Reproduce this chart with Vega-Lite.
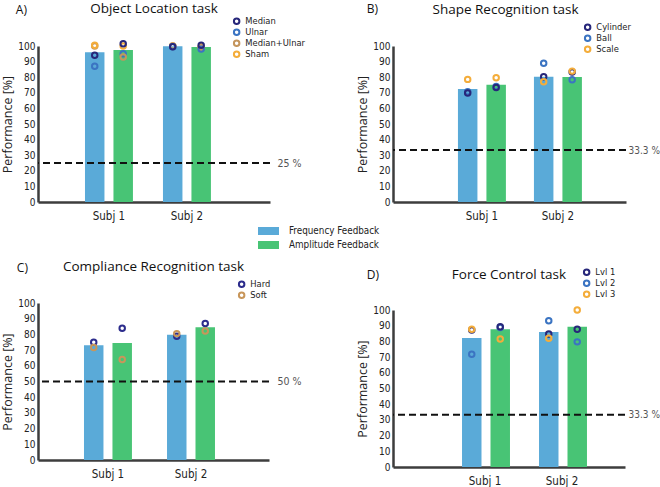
{
  "$schema": "https://vega.github.io/schema/vega-lite/v6.json",
  "padding": {"left": 1, "top": 1, "right": 0, "bottom": 0},
  "datasets": {
    "bars": [
      {"panel": "A", "subj": "Subj 1", "feedback": "Frequency Feedback", "value": 96},
      {"panel": "A", "subj": "Subj 1", "feedback": "Amplitude Feedback", "value": 97.5},
      {"panel": "A", "subj": "Subj 2", "feedback": "Frequency Feedback", "value": 99.8},
      {"panel": "A", "subj": "Subj 2", "feedback": "Amplitude Feedback", "value": 99.3},
      {"panel": "B", "subj": "Subj 1", "feedback": "Frequency Feedback", "value": 72.4},
      {"panel": "B", "subj": "Subj 1", "feedback": "Amplitude Feedback", "value": 75.2},
      {"panel": "B", "subj": "Subj 2", "feedback": "Frequency Feedback", "value": 80.3},
      {"panel": "B", "subj": "Subj 2", "feedback": "Amplitude Feedback", "value": 80.1},
      {"panel": "C", "subj": "Subj 1", "feedback": "Frequency Feedback", "value": 73.1},
      {"panel": "C", "subj": "Subj 1", "feedback": "Amplitude Feedback", "value": 74.6},
      {"panel": "C", "subj": "Subj 2", "feedback": "Frequency Feedback", "value": 79.7},
      {"panel": "C", "subj": "Subj 2", "feedback": "Amplitude Feedback", "value": 84.5},
      {"panel": "D", "subj": "Subj 1", "feedback": "Frequency Feedback", "value": 82.2},
      {"panel": "D", "subj": "Subj 1", "feedback": "Amplitude Feedback", "value": 87.7},
      {"panel": "D", "subj": "Subj 2", "feedback": "Frequency Feedback", "value": 86},
      {"panel": "D", "subj": "Subj 2", "feedback": "Amplitude Feedback", "value": 89.4}
    ],
    "points": [
      {"panel": "A", "subj": "Subj 1", "feedback": "Frequency Feedback", "cond": "Ulnar", "value": 87},
      {"panel": "A", "subj": "Subj 1", "feedback": "Frequency Feedback", "cond": "Median", "value": 94},
      {"panel": "A", "subj": "Subj 1", "feedback": "Frequency Feedback", "cond": "Median+Ulnar", "value": 100},
      {"panel": "A", "subj": "Subj 1", "feedback": "Frequency Feedback", "cond": "Sham", "value": 100.5},
      {"panel": "A", "subj": "Subj 1", "feedback": "Amplitude Feedback", "cond": "Sham", "value": 100},
      {"panel": "A", "subj": "Subj 1", "feedback": "Amplitude Feedback", "cond": "Ulnar", "value": 95},
      {"panel": "A", "subj": "Subj 1", "feedback": "Amplitude Feedback", "cond": "Median+Ulnar", "value": 93},
      {"panel": "A", "subj": "Subj 1", "feedback": "Amplitude Feedback", "cond": "Median", "value": 101.5},
      {"panel": "A", "subj": "Subj 2", "feedback": "Frequency Feedback", "cond": "Sham", "value": 100},
      {"panel": "A", "subj": "Subj 2", "feedback": "Frequency Feedback", "cond": "Median+Ulnar", "value": 100},
      {"panel": "A", "subj": "Subj 2", "feedback": "Frequency Feedback", "cond": "Ulnar", "value": 99.5},
      {"panel": "A", "subj": "Subj 2", "feedback": "Frequency Feedback", "cond": "Median", "value": 99.5},
      {"panel": "A", "subj": "Subj 2", "feedback": "Amplitude Feedback", "cond": "Sham", "value": 99.5},
      {"panel": "A", "subj": "Subj 2", "feedback": "Amplitude Feedback", "cond": "Median+Ulnar", "value": 99},
      {"panel": "A", "subj": "Subj 2", "feedback": "Amplitude Feedback", "cond": "Ulnar", "value": 98},
      {"panel": "A", "subj": "Subj 2", "feedback": "Amplitude Feedback", "cond": "Median", "value": 100.5},
      {"panel": "B", "subj": "Subj 1", "feedback": "Frequency Feedback", "cond": "Ball", "value": 70.7},
      {"panel": "B", "subj": "Subj 1", "feedback": "Frequency Feedback", "cond": "Cylinder", "value": 69.8},
      {"panel": "B", "subj": "Subj 1", "feedback": "Frequency Feedback", "cond": "Scale", "value": 78.6},
      {"panel": "B", "subj": "Subj 1", "feedback": "Amplitude Feedback", "cond": "Ball", "value": 74.1},
      {"panel": "B", "subj": "Subj 1", "feedback": "Amplitude Feedback", "cond": "Cylinder", "value": 73.4},
      {"panel": "B", "subj": "Subj 1", "feedback": "Amplitude Feedback", "cond": "Scale", "value": 79.7},
      {"panel": "B", "subj": "Subj 2", "feedback": "Frequency Feedback", "cond": "Ball", "value": 88.9},
      {"panel": "B", "subj": "Subj 2", "feedback": "Frequency Feedback", "cond": "Cylinder", "value": 80.3},
      {"panel": "B", "subj": "Subj 2", "feedback": "Frequency Feedback", "cond": "Scale", "value": 77.1},
      {"panel": "B", "subj": "Subj 2", "feedback": "Amplitude Feedback", "cond": "Ball", "value": 78.4},
      {"panel": "B", "subj": "Subj 2", "feedback": "Amplitude Feedback", "cond": "Cylinder", "value": 83.3},
      {"panel": "B", "subj": "Subj 2", "feedback": "Amplitude Feedback", "cond": "Scale", "value": 83.9},
      {"panel": "C", "subj": "Subj 1", "feedback": "Frequency Feedback", "cond": "Hard", "value": 75},
      {"panel": "C", "subj": "Subj 1", "feedback": "Frequency Feedback", "cond": "Soft", "value": 71.6},
      {"panel": "C", "subj": "Subj 1", "feedback": "Amplitude Feedback", "cond": "Hard", "value": 83.9},
      {"panel": "C", "subj": "Subj 1", "feedback": "Amplitude Feedback", "cond": "Soft", "value": 64},
      {"panel": "C", "subj": "Subj 2", "feedback": "Frequency Feedback", "cond": "Hard", "value": 78.8},
      {"panel": "C", "subj": "Subj 2", "feedback": "Frequency Feedback", "cond": "Soft", "value": 80.5},
      {"panel": "C", "subj": "Subj 2", "feedback": "Amplitude Feedback", "cond": "Hard", "value": 86.9},
      {"panel": "C", "subj": "Subj 2", "feedback": "Amplitude Feedback", "cond": "Soft", "value": 82.2},
      {"panel": "D", "subj": "Subj 1", "feedback": "Frequency Feedback", "cond": "Lvl 1", "value": 87.3},
      {"panel": "D", "subj": "Subj 1", "feedback": "Frequency Feedback", "cond": "Lvl 2", "value": 71.8},
      {"panel": "D", "subj": "Subj 1", "feedback": "Frequency Feedback", "cond": "Lvl 3", "value": 87.7},
      {"panel": "D", "subj": "Subj 1", "feedback": "Amplitude Feedback", "cond": "Lvl 3", "value": 81.6},
      {"panel": "D", "subj": "Subj 1", "feedback": "Amplitude Feedback", "cond": "Lvl 2", "value": 88.8},
      {"panel": "D", "subj": "Subj 1", "feedback": "Amplitude Feedback", "cond": "Lvl 1", "value": 89.4},
      {"panel": "D", "subj": "Subj 2", "feedback": "Frequency Feedback", "cond": "Lvl 1", "value": 84.7},
      {"panel": "D", "subj": "Subj 2", "feedback": "Frequency Feedback", "cond": "Lvl 2", "value": 93.2},
      {"panel": "D", "subj": "Subj 2", "feedback": "Frequency Feedback", "cond": "Lvl 3", "value": 82},
      {"panel": "D", "subj": "Subj 2", "feedback": "Amplitude Feedback", "cond": "Lvl 1", "value": 87.7},
      {"panel": "D", "subj": "Subj 2", "feedback": "Amplitude Feedback", "cond": "Lvl 2", "value": 79.7},
      {"panel": "D", "subj": "Subj 2", "feedback": "Amplitude Feedback", "cond": "Lvl 3", "value": 100}
    ],
    "chance": [
      {"panel": "A", "value": 25},
      {"panel": "B", "value": 33.3},
      {"panel": "C", "value": 50},
      {"panel": "D", "value": 33.3}
    ]
  },
  "hconcat": [
    {
      "vconcat": [
        {
          "vconcat": [
            {
              "width": 232, "height": 156,
              "title": {"text": "Object Location task", "fontSize": 13.5, "offset": 1, "frame": "group", "anchor": "middle"},
              "layer": [
                {
                  "data": {"name": "bars"},
                  "transform": [{"filter": "datum.panel === 'A'"}],
                  "mark": {"type": "bar"},
                  "encoding": {
                    "x": {"field": "subj", "type": "nominal", "scale": {"domain": ["Subj 1", "Subj 2"], "paddingInner": 0.385, "paddingOuter": 0.68, "align": 0.443}, "axis": {"title": null, "labelAngle": 0, "labelPadding": 8, "labelFontSize": 11.5}},
                    "xOffset": {"field": "feedback", "type": "nominal", "scale": {"domain": ["Frequency Feedback", "Amplitude Feedback"], "paddingInner": 0.316, "paddingOuter": 0}},
                    "y": {"field": "value", "type": "quantitative", "scale": {"domain": [0, 100], "nice": false}, "axis": {"values": [0, 10, 20, 30, 40, 50, 60, 70, 80, 90, 100], "title": "Performance [%]", "titleFontSize": 12.5, "labelPadding": 3, "titlePadding": 3}},
                    "fill": {"field": "feedback", "type": "nominal", "scale": {"domain": ["Frequency Feedback", "Amplitude Feedback"], "range": ["#5aaad8", "#48c475"]}, "legend": {"orient": "none", "legendX": 220, "legendY": 180, "title": null, "symbolType": "M-1,-0.38H1V0.38H-1Z", "symbolSize": 441, "symbolStrokeWidth": 0, "clipHeight": 10, "labelFontSize": 9.8, "labelOffset": 10, "rowPadding": 4, "padding": 0}}
                  }
                },
                {
                  "data": {"name": "points"},
                  "transform": [{"filter": "datum.panel === 'A'"}],
                  "mark": {"type": "point", "shape": "circle", "filled": false, "size": 30, "strokeWidth": 2, "opacity": 1},
                  "encoding": {
                    "x": {"field": "subj", "type": "nominal", "scale": {"domain": ["Subj 1", "Subj 2"], "paddingInner": 0.385, "paddingOuter": 0.68, "align": 0.443}, "axis": {"title": null, "labelAngle": 0, "labelPadding": 8, "labelFontSize": 11.5}},
                    "xOffset": {"field": "feedback", "type": "nominal", "scale": {"domain": ["Frequency Feedback", "Amplitude Feedback"], "paddingInner": 0.316, "paddingOuter": 0}},
                    "y": {"field": "value", "type": "quantitative", "scale": {"domain": [0, 100], "nice": false}, "axis": null},
                    "stroke": {"field": "cond", "type": "nominal", "scale": {"domain": ["Median", "Ulnar", "Median+Ulnar", "Sham"], "range": ["#27277a", "#3b74c2", "#c4955d", "#f4ad3b"]}, "legend": {"orient": "none", "legendX": 194, "legendY": -30, "title": null, "symbolType": "circle", "symbolSize": 30, "symbolStrokeWidth": 2, "clipHeight": 10.5, "labelFontSize": 9.3, "labelOffset": 4, "rowPadding": 0, "padding": 0}}
                  }
                },
                {
                  "data": {"name": "chance"},
                  "transform": [{"filter": "datum.panel === 'A'"}],
                  "mark": {"type": "rule", "strokeDash": [7, 4], "strokeWidth": 2, "color": "#111"},
                  "encoding": {
                    "y": {"field": "value", "type": "quantitative", "scale": {"domain": [0, 100], "nice": false}, "axis": {"orient": "right", "values": [25], "labelExpr": "datum.value + ' %'", "domain": false, "title": null, "labelColor": "#555", "labelPadding": 7, "labelFontSize": 10.5}}
                  }
                }
              ],
              "resolve": {"axis": {"y": "independent"}}
            }
          ],
          "title": {"text": "A)", "anchor": "start", "fontSize": 12, "offset": -15, "dx": 14},
          "resolve": {"scale": {"stroke": "independent"}, "legend": {"stroke": "independent"}}
        },
        {
          "vconcat": [
            {
              "width": 231, "height": 157,
              "title": {"text": "Compliance Recognition task", "fontSize": 13.5, "offset": 6, "frame": "group", "anchor": "middle"},
              "layer": [
                {
                  "data": {"name": "bars"},
                  "transform": [{"filter": "datum.panel === 'C'"}],
                  "mark": {"type": "bar"},
                  "encoding": {
                    "x": {"field": "subj", "type": "nominal", "scale": {"domain": ["Subj 1", "Subj 2"], "paddingInner": 0.422, "paddingOuter": 0.602, "align": 0.46}, "axis": {"title": null, "labelAngle": 0, "labelPadding": 8, "labelFontSize": 11.5}},
                    "xOffset": {"field": "feedback", "type": "nominal", "scale": {"domain": ["Frequency Feedback", "Amplitude Feedback"], "paddingInner": 0.316, "paddingOuter": 0}},
                    "y": {"field": "value", "type": "quantitative", "scale": {"domain": [0, 100], "nice": false}, "axis": {"values": [0, 10, 20, 30, 40, 50, 60, 70, 80, 90, 100], "title": "Performance [%]", "titleFontSize": 12.5, "labelPadding": 3, "titlePadding": 3}},
                    "fill": {"field": "feedback", "type": "nominal", "scale": {"domain": ["Frequency Feedback", "Amplitude Feedback"], "range": ["#5aaad8", "#48c475"]}, "legend": {"orient": "none", "legendX": 220, "legendY": 180, "title": null, "symbolType": "M-1,-0.38H1V0.38H-1Z", "symbolSize": 441, "symbolStrokeWidth": 0, "clipHeight": 10, "labelFontSize": 9.8, "labelOffset": 10, "rowPadding": 4, "padding": 0}}
                  }
                },
                {
                  "data": {"name": "points"},
                  "transform": [{"filter": "datum.panel === 'C'"}],
                  "mark": {"type": "point", "shape": "circle", "filled": false, "size": 30, "strokeWidth": 2, "opacity": 1},
                  "encoding": {
                    "x": {"field": "subj", "type": "nominal", "scale": {"domain": ["Subj 1", "Subj 2"], "paddingInner": 0.422, "paddingOuter": 0.602, "align": 0.46}, "axis": {"title": null, "labelAngle": 0, "labelPadding": 8, "labelFontSize": 11.5}},
                    "xOffset": {"field": "feedback", "type": "nominal", "scale": {"domain": ["Frequency Feedback", "Amplitude Feedback"], "paddingInner": 0.316, "paddingOuter": 0}},
                    "y": {"field": "value", "type": "quantitative", "scale": {"domain": [0, 100], "nice": false}, "axis": null},
                    "stroke": {"field": "cond", "type": "nominal", "scale": {"domain": ["Hard", "Soft"], "range": ["#2c2c8c", "#c8965a"]}, "legend": {"orient": "none", "legendX": 199, "legendY": -24, "title": null, "symbolType": "circle", "symbolSize": 30, "symbolStrokeWidth": 2, "clipHeight": 10.5, "labelFontSize": 9.3, "labelOffset": 4, "rowPadding": 0, "padding": 0}}
                  }
                },
                {
                  "data": {"name": "chance"},
                  "transform": [{"filter": "datum.panel === 'C'"}],
                  "mark": {"type": "rule", "strokeDash": [7, 4], "strokeWidth": 2, "color": "#111"},
                  "encoding": {
                    "y": {"field": "value", "type": "quantitative", "scale": {"domain": [0, 100], "nice": false}, "axis": {"orient": "right", "values": [50], "labelExpr": "datum.value + ' %'", "domain": false, "title": null, "labelColor": "#555", "labelPadding": 8, "labelFontSize": 10.5}}
                  }
                }
              ],
              "resolve": {"axis": {"y": "independent"}}
            }
          ],
          "title": {"text": "C)", "anchor": "start", "fontSize": 12, "offset": -15, "dx": 15},
          "resolve": {"scale": {"stroke": "independent"}, "legend": {"stroke": "independent"}}
        }
      ],
      "spacing": 37,
      "resolve": {"scale": {"stroke": "independent"}, "legend": {"stroke": "independent"}}
    },
    {
      "vconcat": [
        {
          "vconcat": [
            {
              "width": 233, "height": 156,
              "title": {"text": "Shape Recognition task", "fontSize": 13.5, "offset": 6, "frame": "group", "anchor": "middle", "dx": -4},
              "layer": [
                {
                  "data": {"name": "bars"},
                  "transform": [{"filter": "datum.panel === 'B'"}],
                  "mark": {"type": "bar"},
                  "encoding": {
                    "x": {"field": "subj", "type": "nominal", "scale": {"domain": ["Subj 1", "Subj 2"], "paddingInner": 0.368, "paddingOuter": 0.717, "align": 0.596}, "axis": {"title": null, "labelAngle": 0, "labelPadding": 8, "labelFontSize": 11.5}},
                    "xOffset": {"field": "feedback", "type": "nominal", "scale": {"domain": ["Frequency Feedback", "Amplitude Feedback"], "paddingInner": 0.316, "paddingOuter": 0}},
                    "y": {"field": "value", "type": "quantitative", "scale": {"domain": [0, 100], "nice": false}, "axis": {"values": [0, 10, 20, 30, 40, 50, 60, 70, 80, 90, 100], "title": "Performance [%]", "titleFontSize": 12.5, "labelPadding": 3, "titlePadding": 3}},
                    "fill": {"field": "feedback", "type": "nominal", "scale": {"domain": ["Frequency Feedback", "Amplitude Feedback"], "range": ["#5aaad8", "#48c475"]}, "legend": {"orient": "none", "legendX": 220, "legendY": 180, "title": null, "symbolType": "M-1,-0.38H1V0.38H-1Z", "symbolSize": 441, "symbolStrokeWidth": 0, "clipHeight": 10, "labelFontSize": 9.8, "labelOffset": 10, "rowPadding": 4, "padding": 0}}
                  }
                },
                {
                  "data": {"name": "points"},
                  "transform": [{"filter": "datum.panel === 'B'"}],
                  "mark": {"type": "point", "shape": "circle", "filled": false, "size": 30, "strokeWidth": 2, "opacity": 1},
                  "encoding": {
                    "x": {"field": "subj", "type": "nominal", "scale": {"domain": ["Subj 1", "Subj 2"], "paddingInner": 0.368, "paddingOuter": 0.717, "align": 0.596}, "axis": {"title": null, "labelAngle": 0, "labelPadding": 8, "labelFontSize": 11.5}},
                    "xOffset": {"field": "feedback", "type": "nominal", "scale": {"domain": ["Frequency Feedback", "Amplitude Feedback"], "paddingInner": 0.316, "paddingOuter": 0}},
                    "y": {"field": "value", "type": "quantitative", "scale": {"domain": [0, 100], "nice": false}, "axis": null},
                    "stroke": {"field": "cond", "type": "nominal", "scale": {"domain": ["Cylinder", "Ball", "Scale"], "range": ["#27277a", "#3b74c2", "#f4ad3b"]}, "legend": {"orient": "none", "legendX": 190, "legendY": -24, "title": null, "symbolType": "circle", "symbolSize": 30, "symbolStrokeWidth": 2, "clipHeight": 10.5, "labelFontSize": 9.3, "labelOffset": 4, "rowPadding": 0, "padding": 0}}
                  }
                },
                {
                  "data": {"name": "chance"},
                  "transform": [{"filter": "datum.panel === 'B'"}],
                  "mark": {"type": "rule", "strokeDash": [7, 4], "strokeWidth": 2, "color": "#111"},
                  "encoding": {
                    "y": {"field": "value", "type": "quantitative", "scale": {"domain": [0, 100], "nice": false}, "axis": {"orient": "right", "values": [33.3], "labelExpr": "datum.value + ' %'", "domain": false, "title": null, "labelColor": "#555", "labelPadding": 2, "labelFontSize": 10}}
                  }
                }
              ],
              "resolve": {"axis": {"y": "independent"}}
            }
          ],
          "title": {"text": "B)", "anchor": "start", "fontSize": 12, "offset": -13.5, "dx": 10},
          "resolve": {"scale": {"stroke": "independent"}, "legend": {"stroke": "independent"}}
        },
        {
          "vconcat": [
            {
              "width": 232, "height": 157,
              "title": {"text": "Force Control task", "fontSize": 13.5, "offset": -14, "frame": "group", "anchor": "middle"},
              "layer": [
                {
                  "data": {"name": "bars"},
                  "transform": [{"filter": "datum.panel === 'D'"}],
                  "mark": {"type": "bar"},
                  "encoding": {
                    "x": {"field": "subj", "type": "nominal", "scale": {"domain": ["Subj 1", "Subj 2"], "paddingInner": 0.403, "paddingOuter": 0.708, "align": 0.633}, "axis": {"title": null, "labelAngle": 0, "labelPadding": 8, "labelFontSize": 11.5}},
                    "xOffset": {"field": "feedback", "type": "nominal", "scale": {"domain": ["Frequency Feedback", "Amplitude Feedback"], "paddingInner": 0.3, "paddingOuter": 0}},
                    "y": {"field": "value", "type": "quantitative", "scale": {"domain": [0, 100], "nice": false}, "axis": {"values": [0, 10, 20, 30, 40, 50, 60, 70, 80, 90, 100], "title": "Performance [%]", "titleFontSize": 12.5, "labelPadding": 3, "titlePadding": 3}},
                    "fill": {"field": "feedback", "type": "nominal", "scale": {"domain": ["Frequency Feedback", "Amplitude Feedback"], "range": ["#5aaad8", "#48c475"]}, "legend": {"orient": "none", "legendX": 220, "legendY": 180, "title": null, "symbolType": "M-1,-0.38H1V0.38H-1Z", "symbolSize": 441, "symbolStrokeWidth": 0, "clipHeight": 10, "labelFontSize": 9.8, "labelOffset": 10, "rowPadding": 4, "padding": 0}}
                  }
                },
                {
                  "data": {"name": "points"},
                  "transform": [{"filter": "datum.panel === 'D'"}],
                  "mark": {"type": "point", "shape": "circle", "filled": false, "size": 30, "strokeWidth": 2, "opacity": 1},
                  "encoding": {
                    "x": {"field": "subj", "type": "nominal", "scale": {"domain": ["Subj 1", "Subj 2"], "paddingInner": 0.403, "paddingOuter": 0.708, "align": 0.633}, "axis": {"title": null, "labelAngle": 0, "labelPadding": 8, "labelFontSize": 11.5}},
                    "xOffset": {"field": "feedback", "type": "nominal", "scale": {"domain": ["Frequency Feedback", "Amplitude Feedback"], "paddingInner": 0.3, "paddingOuter": 0}},
                    "y": {"field": "value", "type": "quantitative", "scale": {"domain": [0, 100], "nice": false}, "axis": null},
                    "stroke": {"field": "cond", "type": "nominal", "scale": {"domain": ["Lvl 1", "Lvl 2", "Lvl 3"], "range": ["#27277a", "#3b74c2", "#f4ad3b"]}, "legend": {"orient": "none", "legendX": 189, "legendY": -43, "title": null, "symbolType": "circle", "symbolSize": 30, "symbolStrokeWidth": 2, "clipHeight": 10.5, "labelFontSize": 9.3, "labelOffset": 4, "rowPadding": 0, "padding": 0}}
                  }
                },
                {
                  "data": {"name": "chance"},
                  "transform": [{"filter": "datum.panel === 'D'"}],
                  "mark": {"type": "rule", "strokeDash": [7, 4], "strokeWidth": 2, "color": "#111"},
                  "encoding": {
                    "y": {"field": "value", "type": "quantitative", "scale": {"domain": [0, 100], "nice": false}, "axis": {"orient": "right", "values": [33.3], "labelExpr": "datum.value + ' %'", "domain": false, "title": null, "labelColor": "#555", "labelPadding": 3, "labelFontSize": 10}}
                  }
                }
              ],
              "resolve": {"axis": {"y": "independent"}}
            }
          ],
          "title": {"text": "D)", "anchor": "start", "fontSize": 12, "offset": -15, "dx": 10},
          "resolve": {"scale": {"stroke": "independent"}, "legend": {"stroke": "independent"}}
        }
      ],
      "spacing": 45,
      "resolve": {"scale": {"stroke": "independent"}, "legend": {"stroke": "independent"}}
    }
  ],
  "spacing": 50,
  "resolve": {"scale": {"stroke": "independent"}, "legend": {"stroke": "independent"}},
  "config": {
    "view": {"stroke": null},
    "axis": {"grid": false, "ticks": false, "domainColor": "#3d3d3d", "domainWidth": 2.5, "labelFont": "DejaVu Sans Condensed, Liberation Sans Narrow, DejaVu Sans", "labelFontSize": 10, "labelColor": "#222", "titleFont": "Open Sans", "titleFontWeight": "normal", "titleColor": "#222"},
    "legend": {"labelFont": "DejaVu Sans Condensed, Liberation Sans Narrow, DejaVu Sans", "labelColor": "#222"},
    "title": {"font": "Open Sans", "fontWeight": "normal", "color": "#111"}
  }
}
